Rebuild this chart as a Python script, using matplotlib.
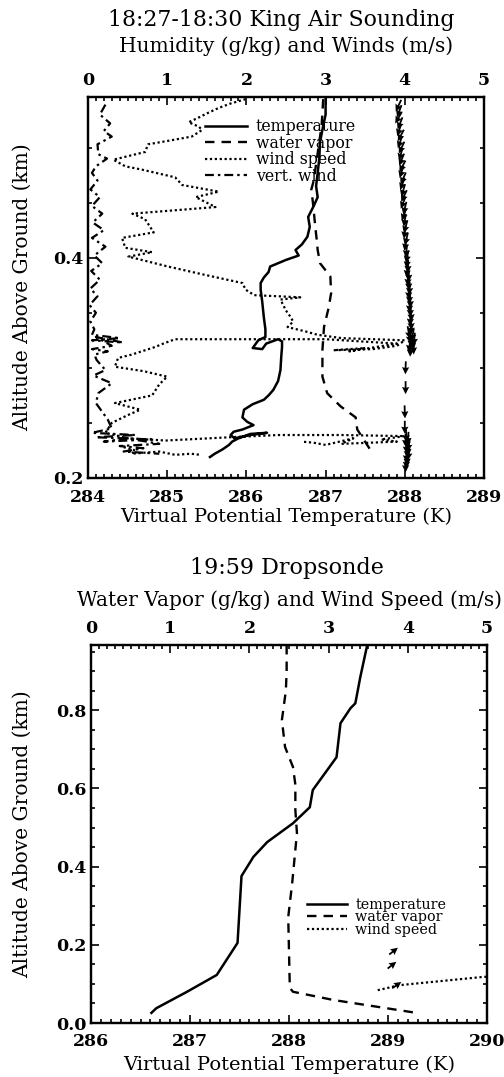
import numpy as np
import matplotlib
matplotlib.use("Agg")
import matplotlib.pyplot as plt
from matplotlib.ticker import MultipleLocator
from matplotlib.lines import Line2D

plt.rcParams["font.family"] = ["DejaVu Serif"]

# ── 18:27-18:30 King Air sounding ─────────────────────────────────────
ka_temp_alt = [0.544, 0.530, 0.520, 0.505, 0.490, 0.477, 0.465, 0.455, 0.447, 0.437,
               0.428, 0.419, 0.412, 0.407, 0.402, 0.398, 0.392, 0.387, 0.382, 0.377,
               0.371, 0.360, 0.346, 0.335, 0.328, 0.325, 0.318, 0.317, 0.322, 0.326,
               0.324, 0.319, 0.310, 0.298, 0.288, 0.280, 0.275, 0.271, 0.267, 0.262,
               0.255, 0.251, 0.248, 0.244, 0.242, 0.239, 0.236, 0.239, 0.241, 0.240,
               0.236, 0.233, 0.230, 0.226, 0.222, 0.219]
ka_temp = [287.00, 287.00, 286.97, 286.93, 286.92, 286.90, 286.88, 286.90, 286.85, 286.78,
           286.80, 286.77, 286.70, 286.62, 286.66, 286.50, 286.30, 286.28, 286.22, 286.18,
           286.18, 286.20, 286.22, 286.24, 286.24, 286.15, 286.08, 286.20, 286.25, 286.40,
           286.45, 286.45, 286.44, 286.43, 286.40, 286.34, 286.28, 286.22, 286.08, 285.97,
           285.95, 286.01, 286.09, 285.95, 285.84, 285.80, 285.85, 286.05, 286.26, 286.05,
           285.90, 285.82, 285.78, 285.70, 285.60, 285.54]

ka_wv_alt = [0.544, 0.520, 0.495, 0.470, 0.462, 0.450, 0.428, 0.415, 0.407, 0.395,
             0.383, 0.368, 0.355, 0.337, 0.316, 0.292, 0.277, 0.265, 0.255, 0.244,
             0.235, 0.225, 0.221]
ka_wv = [2.97, 2.95, 2.90, 2.85, 2.82, 2.84, 2.87, 2.89, 2.90, 2.93,
         3.06, 3.07, 3.04, 2.98, 2.96, 2.96, 3.02, 3.19, 3.38, 3.40,
         3.48, 3.57, 3.59]

ka_ws_alt = [0.544, 0.540, 0.536, 0.531, 0.527, 0.523, 0.519, 0.516, 0.510, 0.506,
             0.503, 0.496, 0.489, 0.483, 0.480, 0.473, 0.466, 0.460, 0.455, 0.446,
             0.440, 0.435, 0.423, 0.418, 0.409, 0.405, 0.401, 0.392, 0.385, 0.377,
             0.371, 0.366, 0.365, 0.364, 0.362, 0.352, 0.346, 0.342, 0.337, 0.333,
             0.330, 0.327, 0.326, 0.325, 0.320, 0.317, 0.316, 0.318, 0.315, 0.322,
             0.326, 0.326, 0.326, 0.322, 0.319, 0.312, 0.309, 0.301, 0.297, 0.292,
             0.285, 0.275, 0.268, 0.262, 0.257, 0.250, 0.241, 0.236, 0.234, 0.237,
             0.239, 0.239, 0.238, 0.235, 0.233, 0.231, 0.236, 0.230, 0.232, 0.233,
             np.nan,
             0.228, 0.225, 0.222, 0.224, 0.221, 0.222, 0.221]
ka_ws = [1.99, 1.80, 1.65, 1.50, 1.39, 1.27, 1.40, 1.44, 1.31, 1.00,
         0.76, 0.72, 0.32, 0.47, 0.68, 1.10, 1.19, 1.65, 1.36, 1.61,
         0.56, 0.72, 0.83, 0.43, 0.47, 0.81, 0.51, 1.01, 1.44, 1.95,
         1.99, 2.10, 2.40, 2.68, 2.43, 2.50, 2.56, 2.59, 2.52, 2.75,
         2.90, 3.20, 3.60, 4.00, 3.90, 3.60, 3.10, 3.50, 3.30, 3.90,
         3.00, 2.00, 1.10, 0.95, 0.85, 0.55, 0.38, 0.34, 0.70, 1.00,
         0.90, 0.81, 0.34, 0.66, 0.50, 0.30, 0.22, 0.50, 0.98, 1.80,
         2.40, 3.20, 4.00, 3.70, 3.90, 3.20, 3.35, 3.00, 2.85, 2.70,
         np.nan,
         0.45, 0.60, 0.55, 0.90, 1.10, 1.30, 1.42]

ka_vw_alt = [0.539, 0.530, 0.522, 0.515, 0.510, 0.503, 0.494, 0.490, 0.483, 0.477,
             0.470, 0.462, 0.455, 0.447, 0.440, 0.432, 0.425, 0.418, 0.410, 0.402,
             0.395, 0.388, 0.380, 0.372, 0.365, 0.357, 0.350, 0.342, 0.335, 0.330,
             0.327, 0.325, 0.323, 0.328, 0.320, 0.317, 0.315, 0.312, 0.307, 0.298,
             0.293, 0.286, 0.277, 0.268, 0.261, 0.253, 0.245, 0.241, 0.239, 0.237,
             0.235, 0.233, 0.236, 0.231, 0.229, 0.227, 0.224, 0.222]
ka_vw = [0.22, 0.15, 0.28, 0.20, 0.30, 0.12, 0.13, 0.24, 0.10, 0.05,
         0.12, 0.03, 0.15, 0.05, 0.18, 0.06, 0.20, 0.05, 0.22, 0.08,
         0.18, 0.04, 0.15, 0.03, 0.12, 0.02, 0.10, 0.03, 0.08, 0.05,
         0.40, 0.05, 0.44, 0.10, 0.30, 0.05, 0.25, 0.08, 0.11, 0.22,
         0.07, 0.30, 0.13, 0.10, 0.17, 0.25, 0.30, 0.05, 0.60, 0.10,
         0.80, 0.20, 0.50, 0.90, 0.40, 0.70, 0.45, 0.90]

# wind direction arrows drawn along the 4 m/s line
ka_arrow_alt = [0.538, 0.533, 0.527, 0.522, 0.516, 0.511, 0.505, 0.500, 0.494, 0.489,
                0.483, 0.478, 0.472, 0.467, 0.461, 0.456, 0.450, 0.445, 0.439, 0.434,
                0.428, 0.423, 0.417, 0.412, 0.406, 0.401,
                0.396, 0.392, 0.388, 0.384, 0.380, 0.376, 0.372, 0.368, 0.364, 0.360,
                0.356, 0.352, 0.348, 0.344, 0.340, 0.336,
                0.332, 0.330, 0.328, 0.326, 0.324, 0.322, 0.320, 0.318, 0.316,
                0.300, 0.282, 0.260, 0.246,
                0.238, 0.236, 0.234, 0.232, 0.230, 0.228, 0.226, 0.224, 0.222, 0.220,
                0.217, 0.214, 0.211]
ka_arrow_x = [3.92, 3.93, 3.92, 3.94, 3.93, 3.95, 3.94, 3.96, 3.95, 3.96,
              3.97, 3.96, 3.98, 3.97, 3.98, 3.99, 3.98, 4.00, 3.99, 4.00,
              4.01, 4.00, 4.02, 4.01, 4.02, 4.03,
              4.03, 4.04, 4.03, 4.05, 4.04, 4.05, 4.06, 4.05, 4.06, 4.07,
              4.06, 4.07, 4.08, 4.07, 4.08, 4.08,
              4.05, 4.10, 4.06, 4.12, 4.08, 4.10, 4.06, 4.11, 4.07,
              4.01, 4.01, 4.00, 4.00,
              4.02, 4.04, 4.01, 4.03, 4.05, 4.02, 4.04, 4.03, 4.05, 4.02,
              4.03, 4.02, 4.01]
ka_arrow_dir = [-115, -110, -120, -112, -108, -118, -110, -115, -105, -112,
                -118, -108, -114, -110, -106, -116, -112, -104, -110, -100,
                -106, -98, -104, -100, -96, -102,
                -95, -92, -96, -90, -94, -88, -92, -90, -95, -88,
                -92, -90, -86, -92, -88, -90,
                -80, -100, -85, -95, -90, -82, -98, -88, -92,
                -92, -90, -88, -90,
                -85, -95, -90, -80, -100, -88, -92, -84, -96, -90,
                -88, -92, -90]

# ── 19:59 dropsonde ───────────────────────────────────────────────────
ds_temp_alt = [0.967, 0.885, 0.818, 0.805, 0.767, 0.680, 0.596, 0.552, 0.511, 0.463,
               0.425, 0.376, 0.205, 0.123, 0.080, 0.038, 0.026]
ds_temp = [288.79, 288.72, 288.67, 288.62, 288.52, 288.48, 288.24, 288.21, 288.04, 287.78,
           287.64, 287.52, 287.48, 287.27, 286.97, 286.66, 286.61]

ds_wv_alt = [0.967, 0.900, 0.850, 0.775, 0.706, 0.655, 0.610, 0.545, 0.486, 0.358,
             0.271, 0.090, 0.080, 0.059, 0.026]
ds_wv = [2.47, 2.47, 2.46, 2.41, 2.45, 2.55, 2.58, 2.58, 2.60, 2.54,
         2.49, 2.51, 2.55, 3.06, 4.11]

ds_ws_alt = [0.084, 0.097, 0.118, 0.121]
ds_ws = [3.62, 3.90, 4.95, 5.30]

ds_arrow_alt = [0.184, 0.148, 0.097]
ds_arrow_x = [3.82, 3.80, 3.86]
ds_arrow_dir = [38, 38, 35]

LEGEND_LABELS = ["temperature", "water vapor", "wind speed", "vert. wind"]
STYLES = {
    "temperature": dict(ls="-", lw=1.8),
    "water vapor": dict(ls=(0, (4, 3)), lw=1.7),
    "wind speed": dict(ls=(0, (1, 1.2)), lw=1.6),
    "vert. wind": dict(ls=(0, (4, 1.8, 1.1, 1.8)), lw=1.6),
}


def draw_arrows(ax, x, alt, ang, length):
    ang = np.radians(ang)
    ax.quiver(x, alt, length * np.cos(ang), length * np.sin(ang),
              angles="uv", pivot="middle", units="dots", scale_units="dots",
              scale=1, width=1.8, headwidth=4, headlength=4,
              headaxislength=3.6, color="black", zorder=4)


def style_axes(ax, ax2, xmin, xmax, ymin, ymax, xpad):
    ax.set_xlim(xmin, xmax)
    ax.set_ylim(ymin, ymax)
    ax2.set_xlim(0, 5)
    ax.xaxis.set_major_locator(MultipleLocator(1))
    ax.xaxis.set_minor_locator(MultipleLocator(0.1))
    ax.yaxis.set_major_locator(MultipleLocator(0.2))
    ax.yaxis.set_minor_locator(MultipleLocator(0.05))
    ax2.xaxis.set_major_locator(MultipleLocator(1))
    ax2.xaxis.set_minor_locator(MultipleLocator(0.1))
    ax.yaxis.set_major_formatter(plt.FuncFormatter(lambda v, p: f"{v:.1f}"))
    ax.tick_params(which="both", direction="in", top=False, right=True, width=1.2,
                   labelsize=12.5)
    ax.tick_params(which="major", length=6)
    ax.tick_params(which="minor", length=3)
    ax.tick_params(axis="x", pad=xpad)
    ax.tick_params(axis="y", pad=3)
    ax2.tick_params(which="both", direction="in", width=1.2, labelsize=12.5, pad=6)
    ax2.tick_params(which="major", length=6)
    ax2.tick_params(which="minor", length=3)
    for a in (ax, ax2):
        for lab in a.get_xticklabels() + a.get_yticklabels():
            lab.set_fontweight("bold")
        for s in a.spines.values():
            s.set_linewidth(1.6)


fig = plt.figure(figsize=(5.04, 10.77), dpi=100)

# ── top panel: King Air sounding ──────────────────────────────────────
ax = fig.add_axes([0.1746, 0.5562, 0.7857, 0.3538])
ax2 = ax.twiny()
ax.plot(ka_temp, ka_temp_alt, color="black", **STYLES["temperature"])
ax2.plot(ka_wv, ka_wv_alt, color="black", **STYLES["water vapor"])
ax2.plot(ka_ws, ka_ws_alt, color="black", **STYLES["wind speed"])
ax2.plot(ka_vw, ka_vw_alt, color="black", **STYLES["vert. wind"])
draw_arrows(ax2, ka_arrow_x, ka_arrow_alt, ka_arrow_dir, 13)
style_axes(ax, ax2, 284, 289, 0.2, 0.546, 8)

handles = [Line2D([], [], color="black", **STYLES[k]) for k in LEGEND_LABELS]
ax2.legend(handles, LEGEND_LABELS, loc="upper left", bbox_to_anchor=(0.295, 0.944),
           frameon=False, fontsize=11.3, handlelength=2.7, handletextpad=0.55,
           labelspacing=-0.03, borderpad=0, borderaxespad=0)

ax.set_xlabel("Virtual Potential Temperature (K)", fontsize=14, labelpad=1)
ax.set_ylabel("Altitude Above Ground (km)", fontsize=14.5)
ax.yaxis.set_label_coords(-0.142, 0.5)
ax2.set_xlabel("Humidity (g/kg) and Winds (m/s)", fontsize=14.5, labelpad=14)
fig.text(0.558, 0.981, "18:27-18:30 King Air Sounding", fontsize=15.8,
         ha="center", va="center")

# ── bottom panel: dropsonde ───────────────────────────────────────────
bx = fig.add_axes([0.1806, 0.0501, 0.7857, 0.351])
bx2 = bx.twiny()
bx.plot(ds_temp, ds_temp_alt, color="black", **STYLES["temperature"])
bx2.plot(ds_wv, ds_wv_alt, color="black", **STYLES["water vapor"])
bx2.plot(ds_ws, ds_ws_alt, color="black", **STYLES["wind speed"])
draw_arrows(bx2, ds_arrow_x, ds_arrow_alt, ds_arrow_dir, 11)
style_axes(bx, bx2, 286, 290, 0.0, 0.967, 7)

handles = [Line2D([], [], color="black", **STYLES[k]) for k in LEGEND_LABELS[:3]]
bx2.legend(handles, LEGEND_LABELS[:3], loc="upper left", bbox_to_anchor=(0.545, 0.332),
           frameon=False, fontsize=10.3, handlelength=2.8, handletextpad=0.6,
           labelspacing=-0.1, borderpad=0, borderaxespad=0)

bx.set_xlabel("Virtual Potential Temperature (K)", fontsize=14, labelpad=4)
bx.set_ylabel("Altitude Above Ground (km)", fontsize=14.5)
bx.yaxis.set_label_coords(-0.15, 0.5)
bx2.set_xlabel("Water Vapor (g/kg) and Wind Speed (m/s)", fontsize=14.5, labelpad=10)
fig.text(0.57, 0.4726, "19:59 Dropsonde", fontsize=16, ha="center", va="center")

fig.savefig("out.png", dpi=100)
